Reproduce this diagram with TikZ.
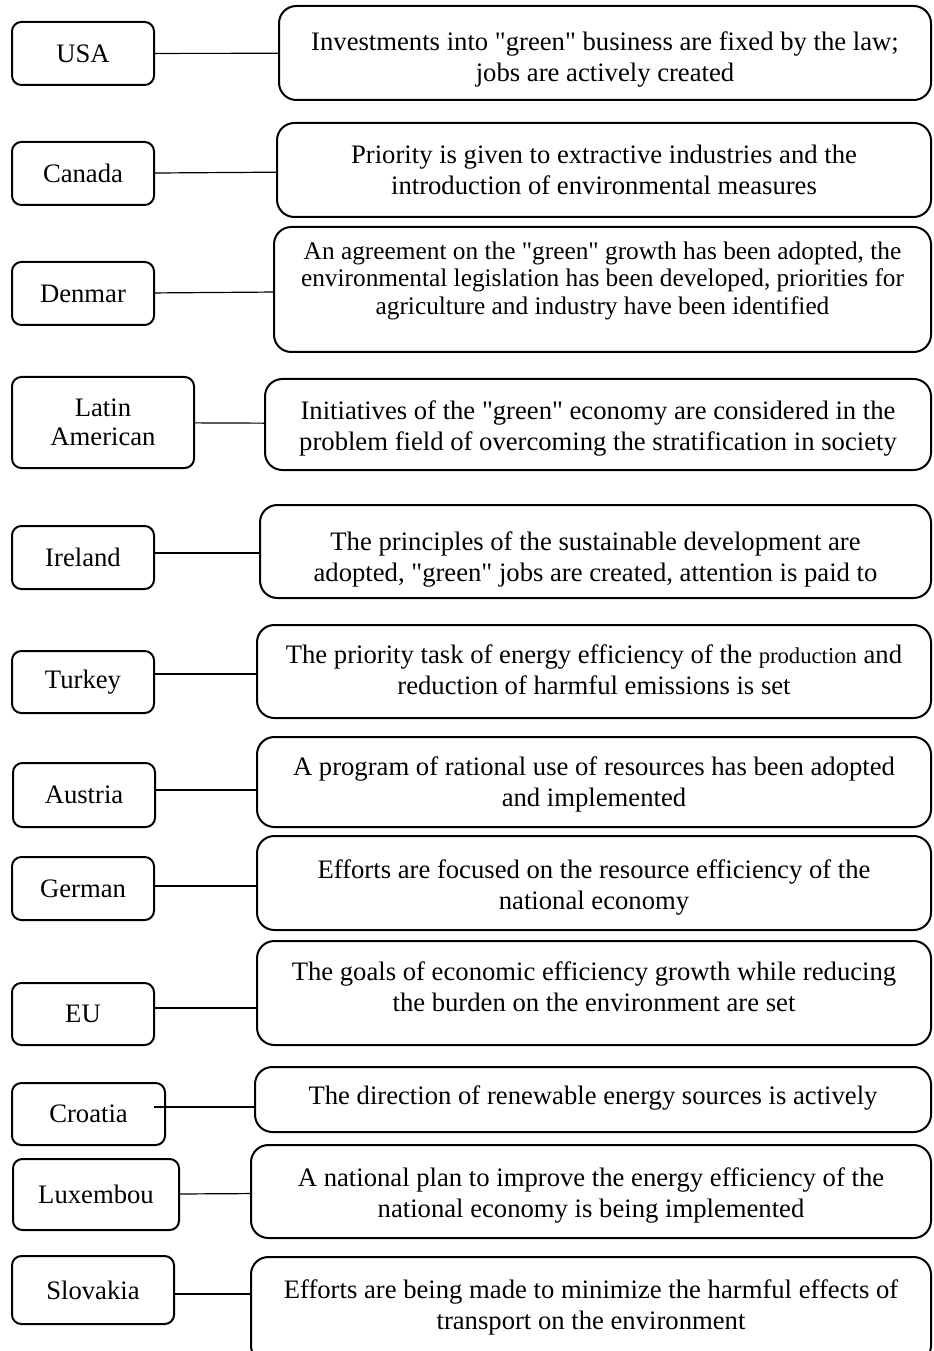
\documentclass[tikz,border=0pt]{standalone}
\usepackage{fontspec}
\setmainfont{Liberation Serif}
\newcommand\qd{\textquotedbl}
\newcommand\tx[2]{\raisebox{#1}[\height][\depth]{\begin{tabular}{@{}c@{}}#2\end{tabular}}}
\tikzset{
  cbox/.style={draw, line width=1.5pt, rounded corners=7pt, inner sep=0pt, outer sep=0pt, align=center},
  dbox/.style={draw, line width=1.5pt, rounded corners=13pt, inner sep=0pt, outer sep=0pt, align=center},
  sz/.style n args={2}{minimum width=#1*0.75pt, minimum height=#2*0.75pt},
  link/.style={line width=0.9pt}
}
\begin{document}
\begin{tikzpicture}[x=0.75pt,y=-0.75pt,
  every node/.style={font=\fontsize{20}{23.5}\selectfont}]
\useasboundingbox (0,0) rectangle (933,1351);
\clip (0,0) rectangle (933,1351);
% USA
\node[cbox, sz={142}{63}] (usa) at (83,53.5) {USA};
\node[dbox, sz={652}{94}] (usar) at (605,53) {\tx{-5.25pt}{Investments into \qd green\qd{} business are fixed by the law;\\ jobs are actively created}};
\draw[link] (usa) -- (usar);
% Canada
\node[cbox, sz={142}{63}] (canada) at (83,173.5) {Canada};
\node[dbox, sz={654}{94}] (canadar) at (604,170) {\tx{-2.25pt}{Priority is given to extractive industries and the\\ introduction of environmental measures}};
\draw[link] (canada) -- (canadar);
% Denmar
\node[cbox, sz={142}{63}] (denmar) at (83,293.5) {Denmar};
\node[dbox, sz={657}{125}, font=\fontsize{19}{20.6}\selectfont] (denmarr) at (602.5,289.5) {\tx{6pt}{An agreement on the \qd green\qd{} growth has been adopted, the\\ environmental legislation has been developed, priorities for\\ agriculture and industry have been identified}};
\draw[link] (denmar) -- (denmarr);
% Latin American
\node[cbox, sz={182}{91}, font=\fontsize{20}{22}\selectfont] (latin) at (103,422.5) {Latin\\ American};
\node[dbox, sz={666}{91}] (latinr) at (598,424.5) {\tx{-3pt}{Initiatives of the \qd green\qd{} economy are considered in the\\ problem field of overcoming the stratification in society}};
\draw[link] (latin) -- (latinr);
% Ireland
\node[cbox, sz={142}{63}] (ireland) at (83,557.5) {Ireland};
\node[dbox, sz={671}{93}] (irelandr) at (595.5,551.5) {\tx{-6pt}{The principles of the sustainable development are\\ adopted, \qd green\qd{} jobs are created, attention is paid to}};
\draw[link] (ireland.east |- 0,553) -- (irelandr.west |- 0,553);
% Turkey
\node[cbox, sz={142}{62}] (turkey) at (83,682) {Turkey};
\node[dbox, sz={674}{93}] (turkeyr) at (594,671.5) {\tx{-0.75pt}{The priority task of energy efficiency of the {\fontsize{17}{23.5}\selectfont production} and\\ reduction of harmful emissions is set}};
\draw[link] (turkey.east |- 0,674) -- (turkeyr.west |- 0,674);
% Austria
\node[cbox, sz={142}{64}] (austria) at (84,795) {Austria};
\node[dbox, sz={674}{90}] (austriar) at (594,782) {\tx{-2.25pt}{A program of rational use of resources has been adopted\\ and implemented}};
\draw[link] (austria.east |- 0,790) -- (austriar.west |- 0,790);
% German
\node[cbox, sz={142}{63}] (german) at (83,888.5) {German};
\node[dbox, sz={674}{94}] (germanr) at (594,883) {\tx{-3.75pt}{Efforts are focused on the resource efficiency of the\\ national economy}};
\draw[link] (german.east |- 0,886) -- (germanr.west |- 0,886);
% EU
\node[cbox, sz={142}{62}] (eu) at (83,1014) {EU};
\node[dbox, sz={674}{104}] (eur) at (594,993) {\tx{2.25pt}{The goals of economic efficiency growth while reducing\\ the burden on the environment are set}};
\draw[link] (eu.east |- 0,1008) -- (eur.west |- 0,1008);
% Croatia
\node[cbox, sz={153}{62}] (croatia) at (88.5,1114) {Croatia};
\node[dbox, sz={676}{65}] (croatiar) at (593,1099.5) {\tx{0.75pt}{The direction of renewable energy sources is actively}};
\coordinate (crs) at (154,1107);
\draw[link] (crs) -- (croatiar.west |- crs);
% Luxembou
\node[cbox, sz={166}{71}] (lux) at (96,1194.5) {Luxembou};
\node[dbox, sz={680}{93}] (luxr) at (591,1191.5) {\tx{-3pt}{A national plan to improve the energy efficiency of the\\ national economy is being implemented}};
\draw[link] (lux) -- (luxr);
% Slovakia
\node[cbox, sz={162}{68}] (slovakia) at (93,1290) {Slovakia};
\node[dbox, sz={680}{106}] (slovakiar) at (591,1310) {\tx{1.5pt}{Efforts are being made to minimize the harmful effects of\\ transport on the environment}};
\draw[link] (slovakia.east |- 0,1294) -- (slovakiar.west |- 0,1294);
\end{tikzpicture}
\end{document}
